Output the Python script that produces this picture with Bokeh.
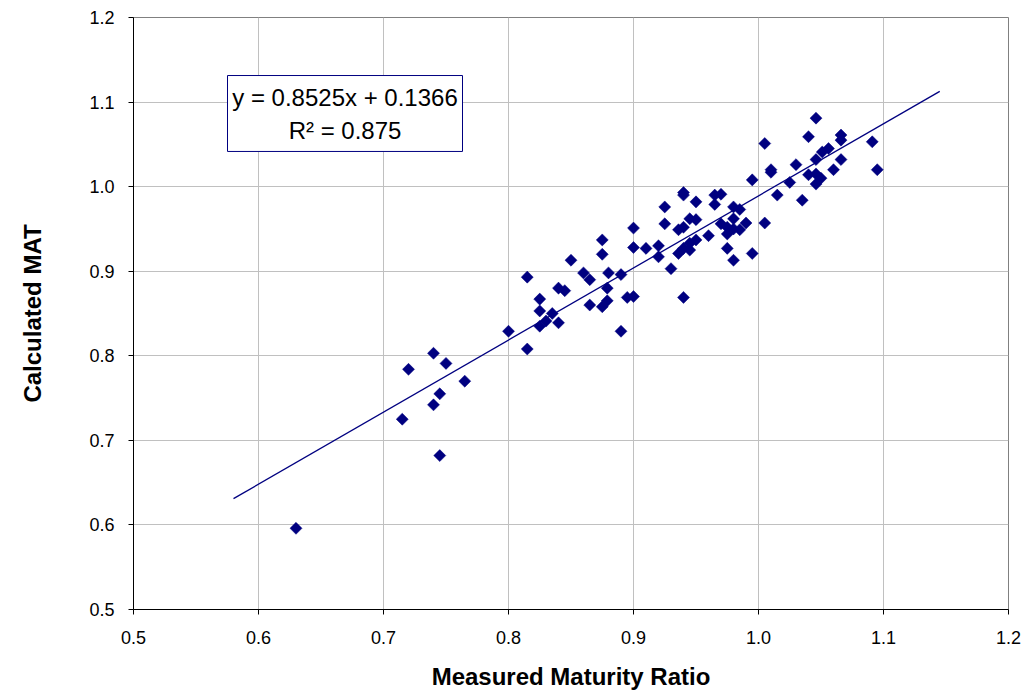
import numpy as np
from bokeh.plotting import figure
from bokeh.models import Range1d, FixedTicker, NumeralTickFormatter, Label, BoxAnnotation
from bokeh.embed import file_html
from bokeh.resources import INLINE

measured = [0.630, 0.715, 0.720, 0.740, 0.750, 0.745, 0.740, 0.745, 0.765, 0.800,
            0.815, 0.815, 0.825, 0.825, 0.825, 0.830, 0.835, 0.840, 0.840, 0.845,
            0.850, 0.860, 0.865, 0.865, 0.875, 0.879, 0.879, 0.880, 0.890, 0.890,
            0.895, 0.900, 0.875, 0.875, 0.900, 0.900, 0.910, 0.920, 0.920, 0.930,
            0.925, 0.925, 0.936, 0.940, 0.940, 0.940, 0.950, 0.945, 0.950, 0.936,
            0.940, 0.945, 0.945, 0.950, 0.940, 0.960, 0.965, 0.970, 0.965, 0.970,
            0.975, 0.975, 0.975, 0.980, 0.985, 0.980, 0.980, 0.985, 0.990, 0.980,
            0.995, 0.995, 1.005, 1.005, 1.010, 1.010, 1.015, 1.025, 1.030, 1.035,
            1.040, 1.040, 1.046, 1.046, 1.046, 1.046, 1.050, 1.051, 1.056, 1.060,
            1.066, 1.066, 1.066, 1.091, 1.095]
calculated = [0.596, 0.725, 0.784, 0.803, 0.791, 0.755, 0.742, 0.682, 0.770, 0.829,
              0.808, 0.893, 0.867, 0.853, 0.835, 0.841, 0.850, 0.839, 0.880, 0.877,
              0.913, 0.898, 0.890, 0.860, 0.858, 0.865, 0.880, 0.898, 0.896, 0.829,
              0.869, 0.870, 0.937, 0.920, 0.951, 0.928, 0.927, 0.930, 0.917, 0.903,
              0.976, 0.956, 0.949, 0.952, 0.993, 0.990, 0.982, 0.962, 0.961, 0.921,
              0.927, 0.925, 0.933, 0.937, 0.869, 0.942, 0.990, 0.991, 0.979, 0.956,
              0.952, 0.944, 0.927, 0.976, 0.973, 0.962, 0.950, 0.949, 0.957, 0.913,
              0.921, 1.008, 1.051, 0.957, 1.020, 1.017, 0.990, 1.005, 1.026, 0.984,
              1.059, 1.014, 1.081, 1.032, 1.015, 1.003, 1.010, 1.041, 1.045, 1.020,
              1.061, 1.055, 1.032, 1.053, 1.020]

slope = 0.8525
intercept = 0.1366
r_squared = 0.875
fit_x = [0.58, 1.145]

x_ticks = [0.5, 0.6, 0.7, 0.8, 0.9, 1.0, 1.1, 1.2]
y_ticks = [0.5, 0.6, 0.7, 0.8, 0.9, 1.0, 1.1, 1.2]

FONT = "Liberation Sans"
NAVY = "#000080"

p = figure(width=1028, height=698, output_backend="svg", toolbar_location=None,
           x_range=Range1d(0.5, 1.2), y_range=Range1d(0.5, 1.2),
           min_border_left=133, min_border_right=20, min_border_top=17, min_border_bottom=89)
p.background_fill_color = "white"
p.border_fill_color = "white"
p.outline_line_color = "#808080"
p.outline_line_width = 1

for ax, ticks in ((p.xaxis, x_ticks), (p.yaxis, y_ticks)):
    ax.ticker = FixedTicker(ticks=ticks)
    ax.formatter = NumeralTickFormatter(format="0.0")
    ax.major_label_text_font = FONT
    ax.major_label_text_font_size = "18px"
    ax.major_label_text_color = "black"
    ax.axis_line_color = "black"
    ax.axis_line_width = 1
    ax.major_tick_line_color = "black"
    ax.major_tick_out = 5
    ax.major_tick_in = 0
    ax.minor_tick_line_color = None
    ax.axis_label_text_font = FONT
    ax.axis_label_text_font_style = "bold"
    ax.axis_label_text_font_size = "24px"
    ax.axis_label_text_color = "black"

p.xaxis.axis_label = "Measured Maturity Ratio"
p.yaxis.axis_label = "Calculated MAT"
p.xaxis.major_label_standoff = 16
p.yaxis.major_label_standoff = 14
p.xaxis.axis_label_standoff = 16
p.yaxis.axis_label_standoff = 40

p.xgrid.ticker = FixedTicker(ticks=x_ticks)
p.ygrid.ticker = FixedTicker(ticks=y_ticks)
p.grid.grid_line_color = "#C0C0C0"
p.grid.grid_line_width = 1

fit_y = [slope * v + intercept for v in fit_x]
p.line(fit_x, fit_y, line_color=NAVY, line_width=1.3)

p.scatter(measured, calculated, marker="square", size=8.5, angle=np.pi / 4,
          fill_color=NAVY, line_color=NAVY, line_width=0.5)

box = BoxAnnotation(left=0.5752, right=0.7632, bottom=1.0416, top=1.1314,
                    fill_color="white", fill_alpha=1.0, line_color=NAVY, line_alpha=1.0,
                    line_width=1, level="overlay")
p.add_layout(box)

eq = Label(x=0.6692, y=1.1054, text=f"y = {slope}x + {intercept}", text_font=FONT,
           text_font_size="24px", text_align="center", text_baseline="middle",
           text_color="black", level="overlay")
r2 = Label(x=0.6692, y=1.0664, text=f"R\u00b2 = {r_squared}", text_font=FONT,
           text_font_size="24px", text_align="center", text_baseline="middle",
           text_color="black", level="overlay")
p.add_layout(eq)
p.add_layout(r2)

open("out.html", "w").write(file_html(p, INLINE))
